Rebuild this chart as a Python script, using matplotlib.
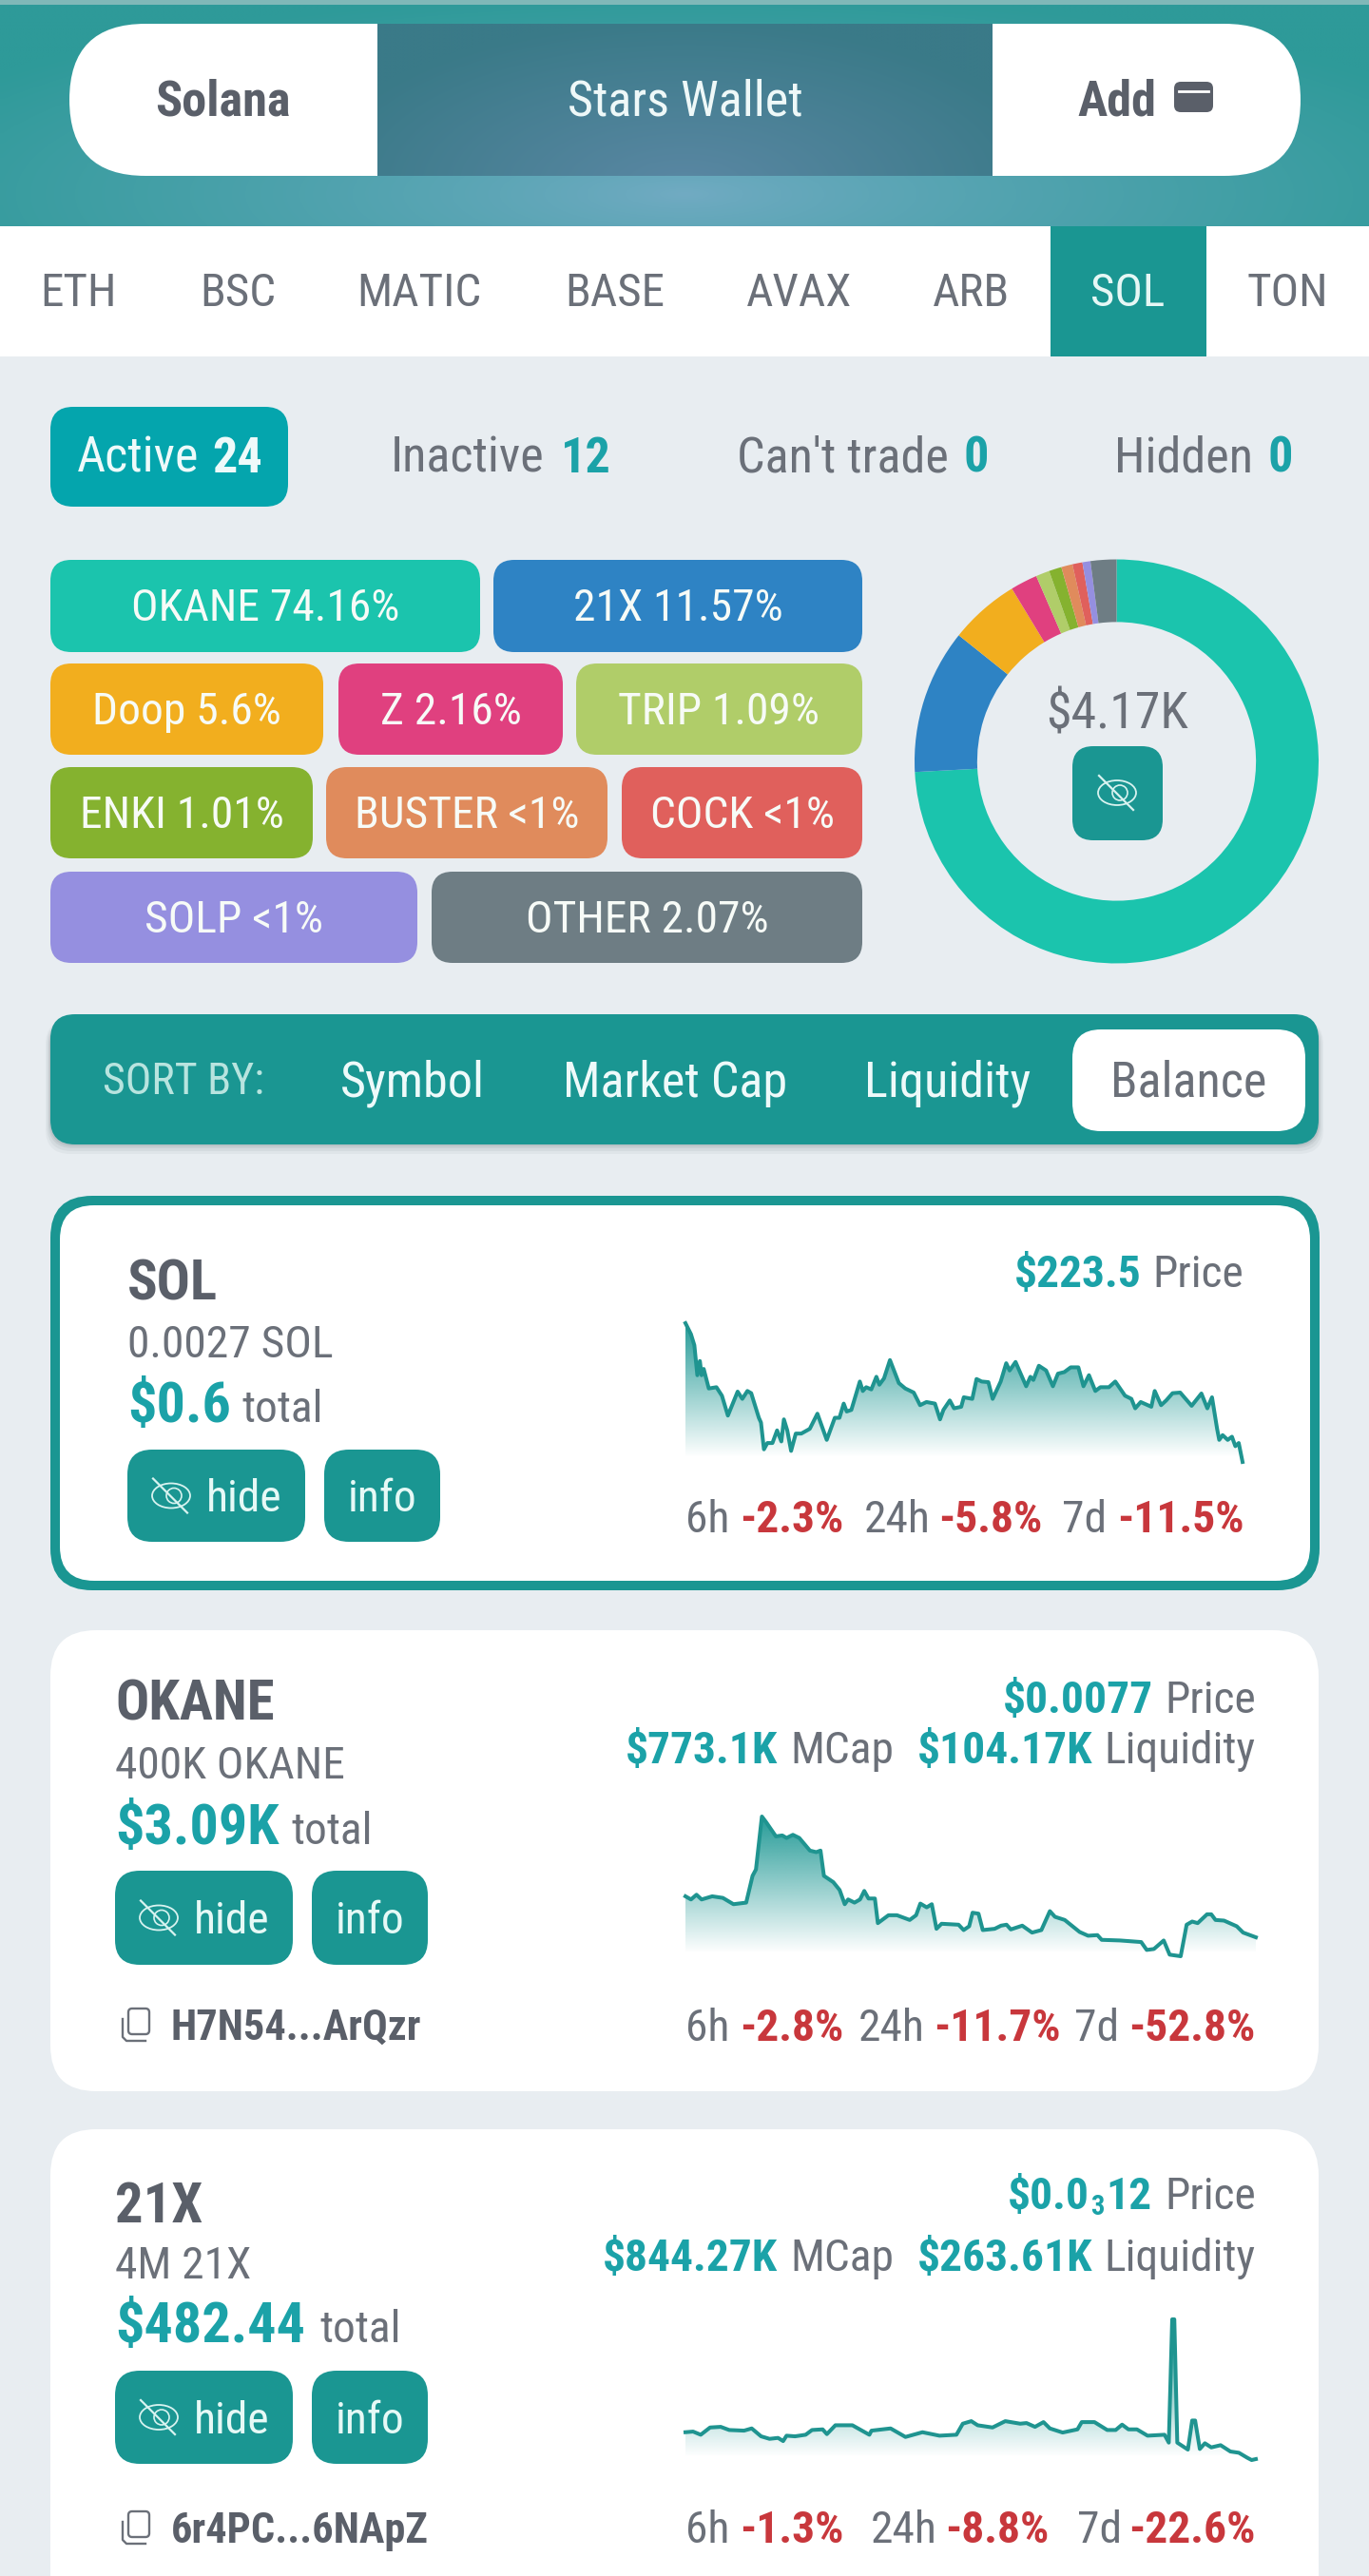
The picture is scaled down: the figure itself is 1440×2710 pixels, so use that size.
import numpy as np
import matplotlib
matplotlib.use("Agg")
import matplotlib.pyplot as plt
from matplotlib.colors import to_rgb
from matplotlib.lines import Line2D
from matplotlib.patches import Ellipse, FancyBboxPatch, Rectangle

plt.rcParams['font.family'] = ['Roboto Condensed', 'Roboto', 'DejaVu Sans']

W, H = 1440, 2710
TEAL = '#1a9692'
BG = '#e8edf1'
GRAY = '#6b7079'
DARK = '#5a5f69'
NUM = '#1ba2a8'
RED = '#c8373c'
FS = 1.14  # condensed face needs a bigger size for the same width

# token share of the wallet
tokens = ['OKANE', '21X', 'Doop', 'Z', 'TRIP', 'ENKI', 'BUSTER', 'COCK', 'SOLP', 'OTHER']
shares = [74.16, 11.57, 5.6, 2.16, 1.09, 1.01, 0.9, 0.8, 0.64, 2.07]
share_labels = ['74.16%', '11.57%', '5.6%', '2.16%', '1.09%', '1.01%', '<1%', '<1%', '<1%', '2.07%']
token_colors = ['#1bc4ad', '#2e83c4', '#f2ae1e', '#e0407f', '#b0cd69',
                '#85b22f', '#e08b5c', '#e0605c', '#958fe0', '#6e7d84']

chains = ['ETH', 'BSC', 'MATIC', 'BASE', 'AVAX', 'ARB', 'SOL', 'TON']
sort_labels = ['Symbol', 'Market Cap', 'Liquidity']

# sparklines (y grows downward)
sol_x = [92, 105, 113, 120, 126, 130, 135, 147, 165, 178, 192, 215, 226, 238, 247, 265, 270, 277, 285, 297, 308, 318,
         324, 332, 341, 352, 365, 385, 403, 425, 444, 455, 465, 472, 483, 503, 510, 518, 530, 542, 549, 560, 574, 595,
         610, 630, 645, 660, 680, 692, 700, 715, 725, 742, 748, 768, 778, 790, 806, 816, 835, 848, 856, 870, 895, 905,
         912, 925, 942, 958, 970, 985, 1000, 1018, 1030, 1043, 1058, 1070, 1090, 1105, 1128, 1143, 1152, 1165, 1190,
         1198, 1213, 1225, 1240, 1258, 1285, 1308, 1322, 1333, 1345, 1350, 1358, 1370, 1380, 1388, 1396, 1405]
sol_y = [275, 310, 345, 440, 395, 440, 420, 482, 478, 505, 568, 492, 515, 490, 497, 575, 590, 675, 655, 655, 615, 650,
         580, 615, 680, 625, 625, 610, 562, 645, 575, 575, 530, 555, 550, 460, 490, 478, 485, 445, 470, 450, 392, 465,
         482, 495, 535, 525, 530, 580, 550, 520, 545, 540, 510, 515, 452, 460, 462, 515, 460, 402, 425, 398, 475, 445,
         455, 410, 425, 475, 435, 430, 415, 415, 475, 440, 490, 478, 478, 460, 505, 515, 545, 525, 540,
         490, 535, 520, 497, 495, 537, 498, 545, 510, 610, 645, 630, 645, 635, 665, 655, 715]

okane_x = [92, 105, 118, 130, 155, 180, 205, 235, 250, 258, 272, 282, 305, 320, 330, 345, 360, 385, 400, 410, 418, 440,
           455, 467, 475, 490, 503, 513, 523, 538, 545, 555, 570, 590, 620, 635, 645, 660, 672, 683, 695, 735, 747, 760,
           768, 782, 792, 820, 835, 848, 858, 885, 908, 930, 950, 962, 985, 1020, 1040, 1062, 1072, 1115, 1165, 1178,
           1195, 1218, 1232, 1258, 1272, 1285, 1298, 1320, 1330, 1340, 1360, 1390, 1405, 1435]
okane_y = [765, 775, 760, 775, 765, 770, 790, 785, 700, 680, 512, 530, 575, 572, 580, 570, 580, 620, 625, 620, 700, 720,
           745, 790, 775, 785, 775, 748, 772, 772, 850, 840, 825, 825, 840, 825, 788, 800, 790, 868, 852, 855, 872, 860,
           817, 820, 872, 868, 858, 855, 870, 858, 880, 872, 812, 830, 840, 878, 890, 888, 903, 905, 910, 935,
           932, 905, 950, 955, 855, 845, 850, 822, 822, 840, 842, 860, 880, 895]

x21_x = [92, 110, 128, 150, 175, 195, 230, 248, 270, 290, 310, 322, 330, 350, 375, 390, 415, 425, 445, 485, 525, 530,
         575, 610, 650, 690, 730, 745, 765, 780, 815, 845, 880, 895, 915, 935, 950, 980, 1015, 1025, 1055, 1085, 1105,
         1120, 1135, 1155, 1180, 1220, 1230, 1238, 1243, 1250, 1275, 1285, 1292, 1303, 1315, 1330, 1352, 1375, 1395,
         1415, 1425, 1435]
x21_y = [897, 895, 905, 882, 880, 890, 892, 885, 910, 918, 915, 925, 908, 910, 905, 890, 888, 903, 875, 875, 905, 892,
         885, 912, 897, 908, 905, 870, 862, 875, 882, 862, 870, 868, 880, 865, 885, 898, 888, 865, 865, 890, 890,
         873, 888, 888, 908, 905, 930, 540, 540, 930, 952, 860, 860, 950, 932, 945, 938, 958, 962,
         978, 985, 982]

fig = plt.figure(figsize=(W / 100, H / 100), dpi=100, facecolor=BG)
ax = fig.add_axes([0, 0, 1, 1])
ax.set_xlim(0, W)
ax.set_ylim(H, 0)
ax.axis('off')


def box(x0, y0, x1, y1, r, color, z=2, **kw):
    p = FancyBboxPatch((x0 + r, y0 + r), x1 - x0 - 2 * r, y1 - y0 - 2 * r,
                       boxstyle=f'round,pad={r},rounding_size={r}',
                       fc=color, ec='none', lw=0, zorder=z, **kw)
    ax.add_patch(p)
    return p


def put(x, y, s, size=30, color=GRAY, weight='normal', ha='left', z=6):
    # y is the middle of the capitals, not of the text box
    size = size * FS
    return ax.text(x, y + 0.355 * size / 0.72, s, fontsize=size, color=color, fontweight=weight,
                   ha=ha, va='baseline', zorder=z)


def radial(x0, y0, x1, y1, cx, cy, rx, ry, c_in, c_out, power=0.8, z=1):
    xx, yy = np.meshgrid(np.linspace(x0, x1, 240), np.linspace(y0, y1, 120))
    d = np.clip(np.hypot((xx - cx) / rx, (yy - cy) / ry), 0, 1)[..., None] ** power
    img = np.array(to_rgb(c_in)) * (1 - d) + np.array(to_rgb(c_out)) * d
    ax.imshow(img, extent=(x0, x1, y1, y0), aspect='auto', zorder=z, interpolation='bilinear')
    ax.set_xlim(0, W)
    ax.set_ylim(H, 0)


def eye_off(cx, cy, color='#d8f3f0', s=1.0):
    ax.add_patch(Ellipse((cx, cy), 40 * s, 26 * s, fc='none', ec=color, lw=1.3, zorder=7))
    ax.add_patch(Ellipse((cx + 3 * s, cy), 16 * s, 16 * s, fc='none', ec=color, lw=1.2, zorder=7))
    ax.add_line(Line2D([cx - 19 * s, cx + 17 * s], [cy - 18 * s, cy + 18 * s], color=color, lw=1.6, zorder=8))


def copy_icon(x, y):
    ax.add_patch(FancyBboxPatch((x + 10, y + 3), 18, 23, boxstyle='round,pad=2,rounding_size=4',
                                fc='none', ec=GRAY, lw=1.7, zorder=6))
    ax.add_line(Line2D([x + 2, x + 2, x + 6, x + 26], [y + 12, y + 31, y + 35, y + 35], color=GRAY, lw=1.7, zorder=6))


def px_axes(x0, y0, x1, y1):
    a = fig.add_axes([x0 / W, 1 - y1 / H, (x1 - x0) / W, (y1 - y0) / H])
    a.patch.set_visible(False)
    a.axis('off')
    return a


def spark(rect, xs, ys, base):
    a = px_axes(*rect)
    top = min(ys)
    a.set_xlim(xs[0], xs[-1])
    a.set_ylim(max(ys), top)
    fill = a.fill_between(xs, ys, base, color='none', lw=0)
    grad = np.zeros((256, 2, 4))
    grad[..., :3] = to_rgb(TEAL)
    grad[..., 3] = np.linspace(0.95, 0, 256)[:, None]
    im = a.imshow(grad, extent=(xs[0], xs[-1], base, top), aspect='auto', interpolation='bilinear')
    im.set_clip_path(fill.get_paths()[0], a.transData)
    a.set_xlim(xs[0], xs[-1])
    a.set_ylim(max(ys), top)
    a.plot(xs, ys, color='#1f9490', lw=2.9, clip_on=False, solid_joinstyle='round')


# header
radial(0, 0, W, 238, 720, 205, 900, 215, '#72abc3', '#2e9a99')
ax.add_patch(Rectangle((0, 0), W, 5, fc='#80b8b8', ec='none', zorder=2))
box(73, 25, 1368, 185, 80, 'white', z=3)
radial(397, 25, 1044, 185, 720, 195, 400, 175, '#5a87a3', '#3a7a88', power=1, z=4)
put(234, 103, 'Solana', 33, DARK, 'bold', ha='center')
put(721, 103, 'Stars Wallet', 33, '#eef8f8', ha='center')
put(1133, 103, 'Add', 33, DARK, 'bold')
box(1235, 86, 1276, 118, 7, DARK, z=6)
ax.add_line(Line2D([1240, 1271], [96, 96], color='white', lw=2, zorder=7))

# chain tabs
ax.add_patch(Rectangle((0, 238), W, 137, fc='white', ec='none', zorder=1))
ax.add_patch(Rectangle((1105, 238), 164, 137, fc=TEAL, ec='none', zorder=2))
for cx, name in zip([83, 250, 441, 647, 841, 1022, 1186, 1354], chains):
    put(cx, 305, name, 31, '#e6f7f5' if name == 'SOL' else GRAY, ha='center')

# status tabs
box(53, 428, 303, 533, 24, '#04a5ad')
put(81, 478, 'Active', 33, '#eefafa')
put(223, 478, '24', 33, '#eefafa', 'bold')
put(411, 478, 'Inactive', 33, GRAY)
put(590, 478, '12', 33, NUM, 'bold')
put(775, 478, "Can't trade", 33, GRAY)
put(1014, 478, '0', 33, NUM, 'bold')
put(1172, 478, 'Hidden', 33, GRAY)
put(1333, 478, '0', 33, NUM, 'bold')

# token chips
chip_rows = [(589, 686, [(53, 505), (519, 907)]),
             (698, 794, [(53, 340), (356, 592), (606, 907)]),
             (807, 903, [(53, 329), (343, 639), (654, 907)]),
             (917, 1013, [(53, 439), (454, 907)])]
i = 0
for y0, y1, spans in chip_rows:
    for x0, x1 in spans:
        box(x0, y0, x1, y1, 22, token_colors[i])
        put((x0 + x1) / 2, (y0 + y1) / 2 - 1, f'{tokens[i]} {share_labels[i]}', 30, '#f7fbf7', ha='center')
        i += 1

# donut
dax = px_axes(962, 588, 1387, 1014)
dax.pie(shares, colors=token_colors, startangle=90, counterclock=False, radius=1,
        wedgeprops={'width': 0.31, 'linewidth': 0})
dax.set_xlim(-1, 1)
dax.set_ylim(-1, 1)
put(1175, 747, '$4.17K', 34, GRAY, ha='center')
box(1128, 785, 1223, 884, 22, TEAL)
eye_off(1175, 834)

# sort bar, with a soft shadow
for grow, alpha in zip([10, 7, 4, 2], [0.06, 0.08, 0.1, 0.12]):
    box(53 - grow / 2, 1067 + 6, 1387 + grow / 2, 1204 + grow, 26, '#5a6a70', z=1, alpha=alpha)
box(53, 1067, 1387, 1204, 26, TEAL)
box(1128, 1083, 1373, 1190, 30, 'white', z=3)
put(108, 1135, 'SORT BY:', 29, '#b8e4df')
for x, name in zip([358, 592, 909], sort_labels):
    put(x, 1135, name, 33, '#eefafa')
put(1168, 1135, 'Balance', 33, GRAY)

# cards
box(53, 1258, 1388, 1673, 44, TEAL, z=2)
box(63, 1268, 1378, 1663, 36, 'white', z=3)
box(53, 1715, 1387, 2200, 48, 'white', z=2)
box(53, 2240, 1387, 2780, 48, 'white', z=2)

cards = [
    {'x': 134, 'name': 'SOL', 'amount': '0.0027 SOL', 'total': '$0.6', 'tw': 120,
     'ys': (1347, 1411, 1475), 'btn': (1525, 1622)},
    {'x': 121, 'name': 'OKANE', 'amount': '400K OKANE', 'total': '$3.09K', 'tw': 185,
     'ys': (1789, 1854, 1919), 'btn': (1968, 2067)},
    {'x': 121, 'name': '21X', 'amount': '4M 21X', 'total': '$482.44', 'tw': 215,
     'ys': (2317, 2380, 2443), 'btn': (2494, 2592)},
]
for c in cards:
    x = c['x']
    put(x, c['ys'][0], c['name'], 37, DARK, 'bold')
    put(x, c['ys'][1], c['amount'], 30, GRAY)
    put(x, c['ys'][2], c['total'], 38, NUM, 'bold')
    put(x + c['tw'], c['ys'][2] + 4, 'total', 30, GRAY)
    y0, y1 = c['btn']
    ym = (y0 + y1) / 2
    box(x, y0, x + 187, y1, 26, TEAL, z=4)
    box(x + 207, y0, x + 329, y1, 26, TEAL, z=4)
    eye_off(x + 46, ym)
    put(x + 83, ym, 'hide', 30, '#e6f9f6')
    put(x + 268, ym, 'info', 30, '#e6f9f6', ha='center')

copy_icon(127, 2112)
put(180, 2130, 'H7N54...ArQzr', 28, DARK, 'bold')
copy_icon(127, 2641)
put(180, 2659, '6r4PC...6NApZ', 28, DARK, 'bold')

# right hand figures
put(1067, 1337, '$223.5', 30, NUM, 'bold')
put(1212, 1337, 'Price', 30, GRAY)
put(1055, 1785, '$0.0077', 30, NUM, 'bold')
put(1225, 1785, 'Price', 30, GRAY)
put(658, 1838, '$773.1K', 30, NUM, 'bold')
put(831, 1838, 'MCap', 30, GRAY)
put(965, 1838, '$104.17K', 30, NUM, 'bold')
put(1161, 1838, 'Liquidity', 30, GRAY)
put(1060, 2307, '$0.0', 30, NUM, 'bold')
put(1147, 2320, '3', 18, NUM, 'bold')
put(1163, 2307, '12', 30, NUM, 'bold')
put(1225, 2307, 'Price', 30, GRAY)
put(634, 2372, '$844.27K', 30, NUM, 'bold')
put(831, 2372, 'MCap', 30, GRAY)
put(965, 2372, '$263.61K', 30, NUM, 'bold')
put(1161, 2372, 'Liquidity', 30, GRAY)

changes = [
    (1595, ['-2.3%', '-5.8%', '-11.5%'], (721, 778, 909, 987, 1117, 1175)),
    (2130, ['-2.8%', '-11.7%', '-52.8%'], (721, 778, 903, 982, 1130, 1187)),
    (2658, ['-1.3%', '-8.8%', '-22.6%'], (721, 778, 916, 994, 1133, 1187)),
]
for y, vals, xs in changes:
    for k, (period, val) in enumerate(zip(['6h', '24h', '7d'], vals)):
        put(xs[2 * k], y, period, 30, GRAY)
        put(xs[2 * k + 1], y, val, 30, RED, 'bold')

spark((721, 1392, 1307, 1538), sol_x, sol_y, 700)
spark((721, 1911, 1321, 2058), okane_x, okane_y, 945)
spark((721, 2440, 1321, 2588), x21_x, x21_y, 975)

fig.savefig('out.png', dpi=100, facecolor=BG)
